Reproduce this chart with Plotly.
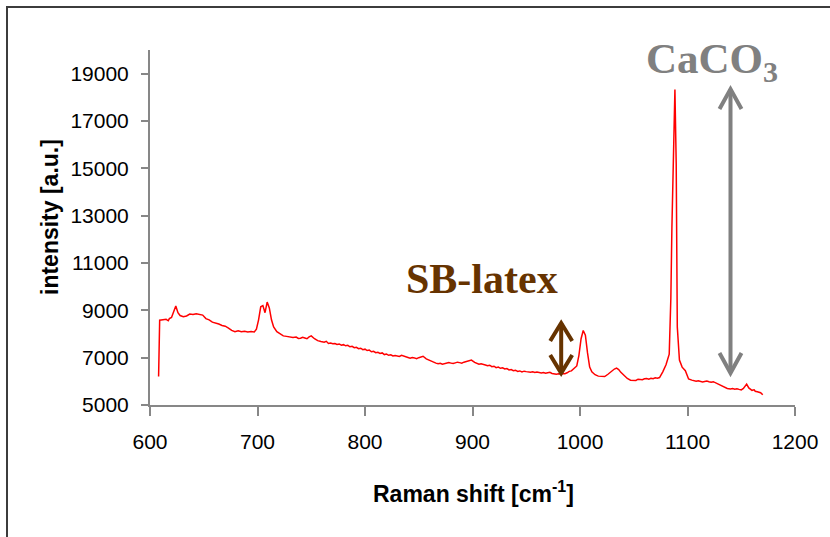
import plotly.graph_objects as go

# Raman spectrum
raman_shift = [608, 609, 612, 615, 617, 618, 620, 622, 624, 626, 628, 631, 634, 637, 640, 643, 646, 649, 652, 655, 658,
               661, 664, 667, 670, 673, 676, 679, 682, 685, 688, 691, 694, 697, 699, 701, 703, 705, 707, 709, 711,
               713, 715, 718, 721, 724, 727, 730, 733, 736, 738, 740, 742, 744, 746, 748, 750, 753, 756, 759, 762,
               764, 766, 768, 770, 772, 774, 776, 778, 780, 782, 784, 786, 788, 790, 792, 794, 796, 798, 800, 802,
               804, 806, 808, 810, 812, 814, 816, 818, 820, 822, 824, 826, 828, 830, 832, 834, 836, 838, 840, 842,
               844, 846, 848, 850, 852, 854, 857, 860, 862, 864, 866, 868, 870, 872, 874, 876, 878, 880, 882, 884,
               886, 888, 890, 892, 894, 896, 899, 902, 904, 906, 908, 910, 912, 914, 916, 918, 920, 922, 924, 926,
               928, 930, 932, 934, 936, 938, 940, 942, 944, 946, 948, 950, 952, 954, 956, 958, 960, 962, 964, 966,
               968, 970, 972, 974, 976, 978, 980, 982, 984, 986, 988, 990, 992, 994, 997, 999, 1001, 1003,
               1005, 1007, 1009, 1011, 1014, 1017, 1020, 1023, 1026, 1029, 1032, 1034, 1036, 1038, 1041, 1044, 1047,
               1050, 1052, 1054, 1056, 1058, 1060, 1062, 1064, 1066, 1068, 1070, 1072, 1074, 1077, 1080, 1083, 1084.5,
               1085.5, 1087, 1088.3, 1089.5, 1090.5, 1092.5, 1095, 1098, 1101, 1104, 1106, 1108, 1110, 1112, 1114, 1116,
               1118, 1120, 1122, 1124, 1126, 1128, 1131, 1134, 1137, 1140, 1142, 1144, 1146, 1148, 1150, 1152, 1155,
               1157, 1160, 1162, 1163, 1165, 1166, 1168, 1170]
intensity = [6200, 8580, 8600, 8620, 8560, 8650, 8700, 8950, 9180, 8900, 8780, 8730, 8760, 8840, 8820, 8850, 8840, 8800, 8650, 8600, 8500,
             8470, 8420, 8360, 8330, 8250, 8150, 8100, 8140, 8100, 8120, 8090, 8110, 8090, 8200, 8600, 9150, 9200, 8900, 9350, 9100,
             8600, 8300, 8100, 8000, 7920, 7900, 7880, 7850, 7870, 7810, 7820, 7860, 7830, 7800, 7880, 7920, 7800, 7720, 7680, 7650,
             7690, 7600, 7620, 7590, 7600, 7560, 7580, 7530, 7550, 7500, 7520, 7460, 7480, 7420, 7440, 7380, 7400, 7340, 7360, 7300,
             7320, 7250, 7270, 7210, 7230, 7180, 7200, 7130, 7150, 7100, 7120, 7070, 7090, 7080, 7050, 7100, 7060, 7040, 7010, 6980,
             7010, 6990, 6960, 7000, 7020, 7060, 6950, 6880, 6840, 6800, 6770, 6740, 6760, 6720, 6740, 6750, 6790, 6770, 6750, 6780,
             6810, 6790, 6770, 6810, 6840, 6870, 6900, 6800, 6760, 6720, 6740, 6700, 6690, 6660, 6680, 6620, 6640, 6580, 6600, 6550,
             6570, 6520, 6540, 6480, 6500, 6450, 6470, 6420, 6440, 6400, 6430, 6410, 6380, 6380, 6400, 6370, 6390, 6360, 6350, 6370,
             6340, 6360, 6380, 6330, 6310, 6300, 6320, 6300, 6330, 6320, 6360, 6420, 6440, 6520, 6650, 7100, 7800, 8150,
             7950, 7200, 6600, 6400, 6280, 6220, 6200, 6200, 6300, 6420, 6520, 6560, 6500, 6380, 6250, 6120, 6050,
             6060, 6040, 6090, 6070, 6070, 6110, 6120, 6090, 6130, 6110, 6150, 6130, 6160, 6400, 6700, 7150, 9500,
             12500, 16500, 18330, 15200, 8300, 6900, 6600, 6450, 6100, 6050, 6030, 6000, 6020, 6000, 5970, 5990,
             6010, 5980, 5960, 5985, 5940, 5900, 5840, 5760, 5700, 5680, 5700, 5670, 5690, 5660, 5640, 5700, 5880,
             5720, 5620, 5640, 5580, 5560, 5540, 5520, 5430]

x_ticks = [600, 700, 800, 900, 1000, 1100, 1200]
y_ticks = [5000, 7000, 9000, 11000, 13000, 15000, 17000, 19000]

# annotation arrows (data coords): x, y_low, y_high
caco3_arrow = (1140, 6350, 18350)
latex_arrow = (982.5, 6350, 8465)

W, H = 830, 537
L, R, T, B = 150, 35, 50, 132
pw, ph = W - L - R, H - T - B

def px_x(p):
    return (p - L) / pw

def px_y(p):
    return (H - B - p) / ph

fig = go.Figure()
fig.add_trace(go.Scatter(x=raman_shift, y=intensity, mode="lines",
                         line=dict(color="#ff0000", width=1.5), showlegend=False))

axis_common = dict(showgrid=False, zeroline=False, showline=True, linecolor="#878787", linewidth=2,
                   ticks="outside", tickcolor="#878787", tickwidth=1.5,
                   tickfont=dict(family="Liberation Sans, Arial, sans-serif", size=21, color="#000000"))
fig.update_xaxes(range=[600, 1200], tickvals=x_ticks, ticktext=[str(v) for v in x_ticks],
                 ticklen=9, ticklabelstandoff=8, **axis_common)
fig.update_yaxes(range=[5000, 20000], tickvals=y_ticks, ticktext=[str(v) for v in y_ticks],
                 ticklen=7, ticklabelstandoff=8, **axis_common)

shapes = []
# outer frame (top and left edges visible)
shapes.append(dict(type="path", xref="paper", yref="paper",
                   path=f"M {px_x(7)},{px_y(560)} L {px_x(7)},{px_y(7)} L {px_x(860)},{px_y(7)}",
                   line=dict(color="#3c3c3c", width=2)))

def double_arrow(xa, ylo, yhi, color, hw, hl):
    out = [dict(type="line", xref="x", yref="y", x0=xa, x1=xa, y0=ylo, y1=yhi,
                line=dict(color=color, width=4))]
    out.append(dict(type="path", xref="x", yref="y", xsizemode="pixel", ysizemode="pixel",
                    xanchor=xa, yanchor=yhi, path=f"M {-hw},{-hl} L 0,0 L {hw},{-hl}",
                    line=dict(color=color, width=4)))
    out.append(dict(type="path", xref="x", yref="y", xsizemode="pixel", ysizemode="pixel",
                    xanchor=xa, yanchor=ylo, path=f"M {-hw},{hl} L 0,0 L {hw},{hl}",
                    line=dict(color=color, width=4)))
    return out

shapes += double_arrow(*caco3_arrow, "#808080", 11, 20)
shapes += double_arrow(*latex_arrow, "#663300", 11, 18)

annotations = [
    dict(text="intensity [a.u.]", xref="paper", yref="paper", x=px_x(50), y=px_y(217),
         textangle=-90, showarrow=False, xanchor="center", yanchor="middle",
         font=dict(family="Liberation Sans, Arial, sans-serif", size=23, color="#000000", weight="bold")),
    dict(text="Raman shift [cm<sup>-1</sup>]", xref="paper", yref="paper", x=px_x(473.5), y=px_y(492),
         showarrow=False, xanchor="center", yanchor="middle",
         font=dict(family="Liberation Sans, Arial, sans-serif", size=23, color="#000000", weight="bold")),
    dict(text="CaCO<sub>3</sub>", xref="paper", yref="paper", x=px_x(712), y=px_y(62),
         showarrow=False, xanchor="center", yanchor="middle",
         font=dict(family="Liberation Serif, Times New Roman, serif", size=43, color="#808080", weight="bold")),
    dict(text="SB-latex", xref="paper", yref="paper", x=px_x(482), y=px_y(279),
         showarrow=False, xanchor="center", yanchor="middle",
         font=dict(family="Liberation Serif, Times New Roman, serif", size=42, color="#663300", weight="bold")),
]

fig.update_layout(width=W, height=H, margin=dict(l=L, r=R, t=T, b=B),
                  paper_bgcolor="white", plot_bgcolor="white",
                  shapes=shapes, annotations=annotations, showlegend=False)

fig.write_html("out.html")
